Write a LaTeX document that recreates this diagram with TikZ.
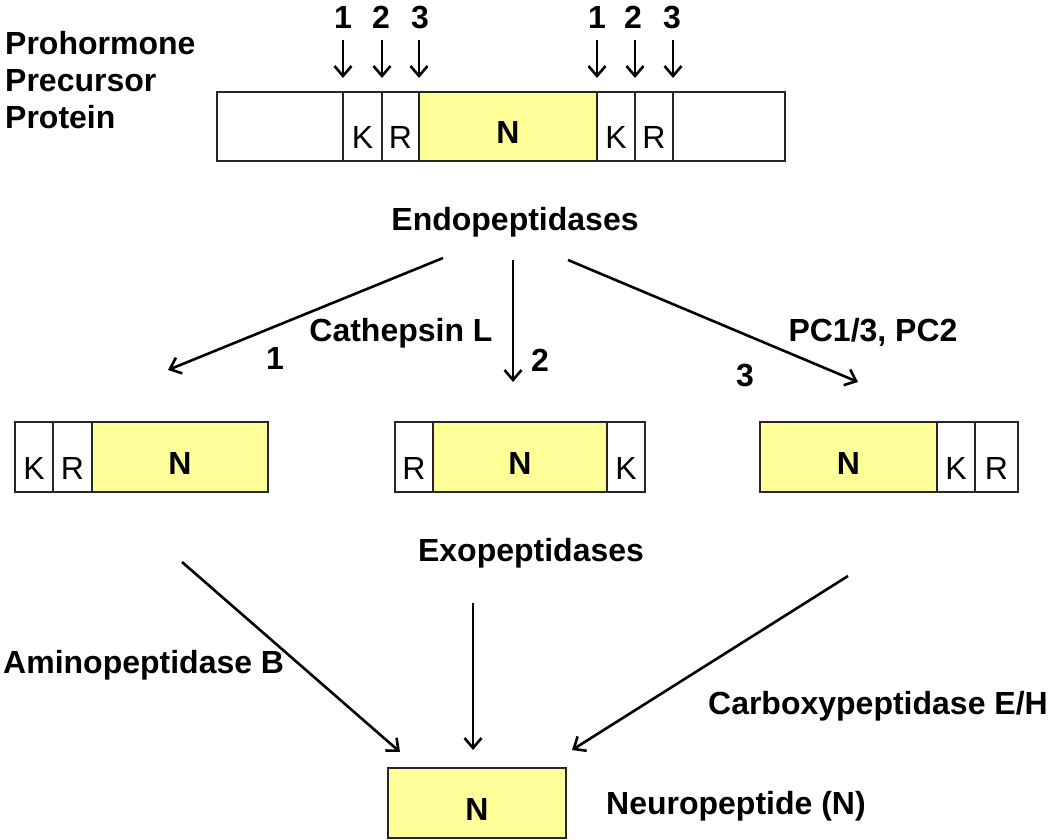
\documentclass[tikz,border=0pt]{standalone}
\usepackage{fontspec}
\setmainfont{Liberation Sans}
\usetikzlibrary{arrows.meta}
\definecolor{pep}{RGB}{255,255,153}
\begin{document}
\begin{tikzpicture}[x=1pt,y=-1pt,
  lbl/.style={font=\fontsize{32}{36}\selectfont\bfseries, inner sep=0pt},
  cell/.style={draw=black!85, line width=2.2pt, anchor=north west, inner sep=0pt, outer sep=0pt},
  ltr/.style={cell, font=\fontsize{32}{36}\selectfont, text height=45pt, text depth=0pt},
  pepcell/.style={cell, fill=pep, font=\fontsize{32}{36}\selectfont\bfseries, text height=35pt, text depth=0pt},
  arr/.style={line width=2.6pt, -{Straight Barb[length=10pt,width=17pt]}}
]
\useasboundingbox (0,0) rectangle (1050,840);

% left labels
\node[lbl, anchor=base west] (t1) at (5,55) {Prohormone};
\node[lbl, anchor=base west] (t2) at (5,92) {Precursor};
\node[lbl, anchor=base west] (t3) at (5,129) {Protein};

% top bar
\node[cell, minimum width=126pt, minimum height=69pt] (b0) at (217,92) {};
\node[ltr, minimum width=39pt, minimum height=69pt] (b1) at (343,92) {K};
\node[ltr, minimum width=37pt, minimum height=69pt] (b2) at (382,92) {R};
\node[pepcell, minimum width=178pt, minimum height=69pt] (b3) at (419,92) {N};
\node[ltr, minimum width=38pt, minimum height=69pt] (b4) at (597,92) {K};
\node[ltr, minimum width=38pt, minimum height=69pt] (b5) at (635,92) {R};
\node[cell, minimum width=112pt, minimum height=69pt] (b6) at (673,92) {};

% cleavage numbers and arrows
\foreach \x/\n/\k in {343/1/a,381/2/b,420/3/c,597/1/d,633/2/e,672/3/f}{
  \node[lbl, anchor=base] (n\k) at (\x,29) {\n};
}
\foreach \x/\k in {343/a,382/b,419/c,597/d,635/e,673/f}{
  \coordinate (s\k) at (\x,40);
  \coordinate (e\k) at (\x,78);
  \draw[arr] (s\k) -- (e\k);
}

% endopeptidases
\node[lbl, anchor=base] (endo) at (515,230) {Endopeptidases};
\coordinate (el) at (443,258);
\coordinate (em) at (513,260);
\coordinate (er) at (568,260);
\coordinate (tl) at (168,370);
\coordinate (tm) at (513,382);
\coordinate (tr) at (858,382);
\draw[arr] (el) -- (tl);
\draw[arr] (em) -- (tm);
\draw[arr] (er) -- (tr);
\node[lbl, anchor=base] (cat) at (401,341) {Cathepsin L};
\node[lbl, anchor=base] (l1) at (275,369) {1};
\node[lbl, anchor=base] (l2) at (540,371) {2};
\node[lbl, anchor=base] (l3) at (745,386) {3};
\node[lbl, anchor=base] (pc) at (873,341) {PC1/3, PC2};

% middle row
\node[ltr, minimum width=38pt, minimum height=70pt] (m1) at (15,422) {K};
\node[ltr, minimum width=39pt, minimum height=70pt] (m2) at (53,422) {R};
\node[pepcell, minimum width=176pt, minimum height=70pt] (m3) at (92,422) {N};

\node[ltr, minimum width=38pt, minimum height=70pt] (c1) at (395,422) {R};
\node[pepcell, minimum width=174pt, minimum height=70pt] (c2) at (433,422) {N};
\node[ltr, minimum width=38pt, minimum height=70pt] (c3) at (607,422) {K};

\node[pepcell, minimum width=177pt, minimum height=70pt] (r1) at (760,422) {N};
\node[ltr, minimum width=38pt, minimum height=70pt] (r2) at (937,422) {K};
\node[ltr, minimum width=43pt, minimum height=70pt] (r3) at (975,422) {R};

% exopeptidases
\node[lbl, anchor=base] (exo) at (531,561) {Exopeptidases};
\coordinate (xl) at (182,562);
\coordinate (xm) at (473,603);
\coordinate (xr) at (848,576);
\coordinate (yl) at (400,752);
\coordinate (ym) at (473,750);
\coordinate (yr) at (572,750);
\draw[arr] (xl) -- (yl);
\draw[arr] (xm) -- (ym);
\draw[arr] (xr) -- (yr);
\node[lbl, anchor=base west] (amb) at (3,673) {Aminopeptidase B};
\node[lbl, anchor=base east] (cpe) at (1048,714) {Carboxypeptidase E/H};

% final
\node[pepcell, minimum width=178pt, minimum height=70pt] (fin) at (388,768) {N};
\node[lbl, anchor=base west] (np) at (606,814) {Neuropeptide (N)};
\end{tikzpicture}
\end{document}
